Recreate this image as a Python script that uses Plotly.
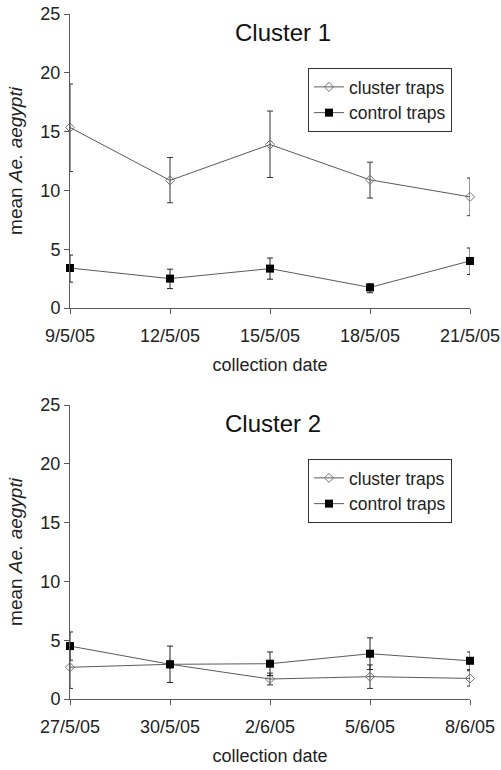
import plotly.graph_objects as go

dates1 = ["9/5/05", "12/5/05", "15/5/05", "18/5/05", "21/5/05"]
cluster1 = [15.35, 10.85, 13.9, 10.9, 9.45]
cluster1_up = [3.7, 1.95, 2.85, 1.5, 1.6]
cluster1_dn = [3.75, 1.9, 2.8, 1.55, 1.6]
control1 = [3.4, 2.5, 3.35, 1.75, 4.0]
control1_up = [1.1, 0.8, 0.9, 0.3, 1.1]
control1_dn = [1.2, 0.85, 0.9, 0.45, 1.15]

dates2 = ["27/5/05", "30/5/05", "2/6/05", "5/6/05", "8/6/05"]
cluster2 = [2.7, 2.95, 1.7, 1.9, 1.75]
cluster2_err = [1.8, 0.3, 0.5, 1.0, 0.65]
control2 = [4.5, 2.95, 3.0, 3.85, 3.25]
control2_err = [1.2, 1.55, 1.0, 1.35, 0.75]

W, H = 501, 770
L, R = 70, 31
FONT = "Liberation Sans, Arial, sans-serif"
LINE = "#5a5a5a"
TXT = "#222"

fig = go.Figure()

def add_pair(xcats, cl, cl_up, cl_dn, co, co_up, co_dn, xa, ya, leg):
    fig.add_trace(go.Scatter(
        x=xcats, y=cl, mode="lines+markers", name="cluster traps",
        xaxis=xa, yaxis=ya, legend=leg, cliponaxis=False,
        line=dict(color=LINE, width=1),
        marker=dict(symbol="diamond-open", size=7, color="#707070", line=dict(width=1)),
        error_y=dict(type="data", array=cl_up, arrayminus=cl_dn, symmetric=False,
                     color="#333333", thickness=1, width=3),
    ))
    fig.add_trace(go.Scatter(
        x=xcats, y=co, mode="lines+markers", name="control traps",
        xaxis=xa, yaxis=ya, legend=leg, cliponaxis=False,
        line=dict(color=LINE, width=1),
        marker=dict(symbol="square", size=8, color="black"),
        error_y=dict(type="data", array=co_up, arrayminus=co_dn, symmetric=False,
                     color="#222222", thickness=1, width=3),
    ))

add_pair(dates1, cluster1, cluster1_up, cluster1_dn, control1, control1_up, control1_dn, "x", "y", "legend")
add_pair(dates2, cluster2, cluster2_err, cluster2_err, control2, control2_err, control2_err, "x2", "y2", "legend2")

def py(p):
    return 1 - p / H

def px(p):
    return (p - L) / (W - L - R)

axis_common = dict(showgrid=False, zeroline=False, showline=True, linecolor=LINE, linewidth=1,
                   ticks="outside", ticklen=5, tickcolor=LINE, automargin=False,
                   tickfont=dict(family=FONT, size=18, color=TXT))

xa = dict(axis_common, type="category", range=[0, 4], domain=[0, 1], ticklabelstandoff=6,
          title=dict(text="collection date", font=dict(family=FONT, size=18, color=TXT), standoff=13))
ya = dict(axis_common, range=[0, 25], tickvals=[0, 5, 10, 15, 20, 25],
          title=dict(text="mean <i>Ae. aegypti</i>", font=dict(family=FONT, size=19, color=TXT), standoff=12))

leg_common = dict(xanchor="left", yanchor="top", bordercolor="#333", borderwidth=1, bgcolor="white",
                  font=dict(family=FONT, size=17.5, color=TXT), itemwidth=30, tracegroupgap=0)

fig.update_layout(
    width=W, height=H,
    margin=dict(l=L, r=R, t=0, b=0, autoexpand=False),
    paper_bgcolor="white", plot_bgcolor="white",
    font=dict(family=FONT, size=18, color=TXT),
    xaxis=dict(xa, anchor="y"),
    yaxis=dict(ya, domain=[py(308), py(14)], anchor="x"),
    xaxis2=dict(xa, anchor="y2"),
    yaxis2=dict(ya, domain=[py(699), py(405)], anchor="x2"),
    legend=dict(leg_common, x=px(308), y=py(68)),
    legend2=dict(leg_common, x=px(308), y=py(459)),
    showlegend=True,
    annotations=[
        dict(text="Cluster 1", x=px(283), y=py(33), xref="paper", yref="paper",
             xanchor="center", yanchor="middle",
             showarrow=False, font=dict(family=FONT, size=24, color="#111")),
        dict(text="Cluster 2", x=px(273), y=py(424), xref="paper", yref="paper",
             xanchor="center", yanchor="middle",
             showarrow=False, font=dict(family=FONT, size=24, color="#111")),
    ],
)

fig.write_html("out.html", config={"displayModeBar": False},
               post_script="document.body.style.margin='0';document.body.style.overflow='hidden';")
